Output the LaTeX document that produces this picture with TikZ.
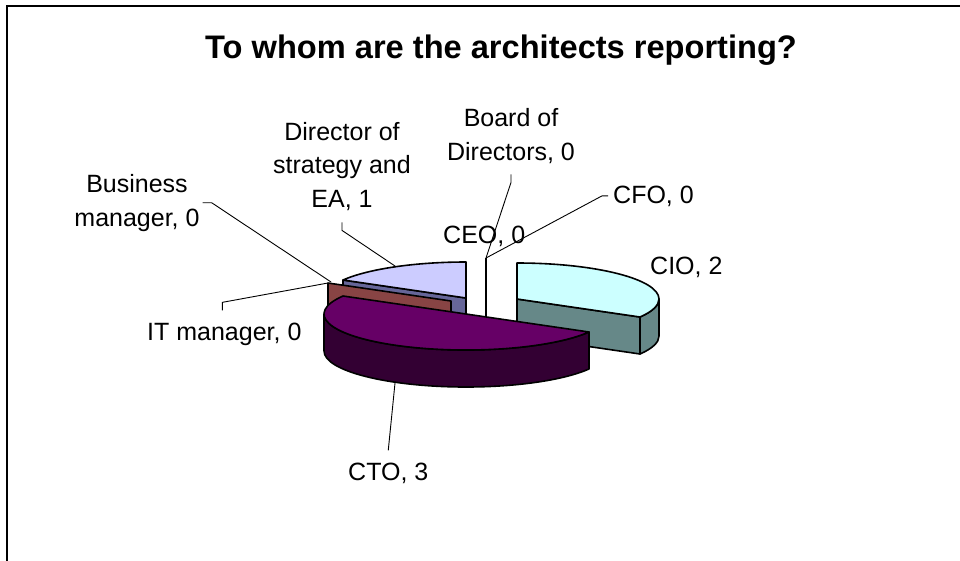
\documentclass[tikz,border=0pt]{standalone}
\usepackage{fontspec}
\setmainfont{Liberation Sans}
\usetikzlibrary{positioning}
\definecolor{cioTop}{HTML}{CCFFFF}
\definecolor{cioSide}{HTML}{668888}
\definecolor{ctoTop}{HTML}{660066}
\definecolor{ctoSide}{HTML}{330033}
\definecolor{eaTop}{HTML}{CCCCFF}
\definecolor{eaSide}{HTML}{666699}
\definecolor{itSide}{HTML}{884444}

\begin{document}
\begin{tikzpicture}[x=1pt, y=-1pt,
    lbl/.style={font=\fontsize{25}{33.5}\selectfont, inner sep=0pt, align=center},
    slice/.style={draw=black, line width=1.6pt, line join=round},
    leader/.style={draw=black, line width=0.9pt}]
  \useasboundingbox (0,0) rectangle (960,560);
  \clip (0,0) rectangle (960,560);
  \draw[line width=2pt] (7,6) rectangle (990,590);

  \node[font=\fontsize{32.6}{38}\selectfont\bfseries, anchor=base west, inner sep=0pt] (title) at (205,58) {To whom are the architects reporting?};

  \draw[slice, fill=eaSide] (466,298) -- (343,280) -- (343,317) -- (466,335) -- cycle;
  \draw[slice, fill=eaTop] (466,298) -- (343,280) arc[start angle=210, end angle=270, x radius=142, y radius=36] -- cycle;
  \draw[slice, fill=itSide] (451,301) -- (328,283) -- (328,320) -- (451,338) -- cycle;
  \draw[slice] (486,258) -- (486,331);

  \draw[slice, fill=cioSide] (517,299) -- (640,317) -- (640,354) -- (517,336) -- cycle;
  \draw[slice, fill=cioSide] (640,317) arc[start angle=30, end angle=0, x radius=142, y radius=36]
    -- ++(0,37) arc[start angle=0, end angle=30, x radius=142, y radius=36] -- cycle;
  \draw[slice, fill=cioTop] (517,299) -- (517,263) arc[start angle=270, end angle=390, x radius=142, y radius=36] -- cycle;

  \draw[slice, fill=ctoSide] (589,332) arc[start angle=30, end angle=180, x radius=142, y radius=36]
    -- ++(0,37) arc[start angle=180, end angle=30, x radius=142, y radius=36] -- cycle;
  \draw[slice, fill=ctoTop] (466,314) -- (589,332) arc[start angle=30, end angle=210, x radius=142, y radius=36] -- cycle;

  \coordinate (zeroTop) at (486,258);
  \coordinate (eaRim) at (395,266);
  \coordinate (bizRim) at (331,282);
  \coordinate (itRim) at (328,283);
  \coordinate (ctoRim) at (395,383);

  \node[lbl, anchor=base] (board) at (511,160) {Board of\\Directors, 0};
  \node[lbl, anchor=base] (dirEA) at (342,207) {Director of\\strategy and\\EA, 1};
  \node[lbl, anchor=base] (bizMgr) at (137,226) {Business\\manager, 0};
  \node[lbl, anchor=base west] (ceo) at (443,243) {CEO, 0};
  \node[lbl, anchor=base west] (cfo) at (613,203) {CFO, 0};
  \node[lbl, anchor=base west] (cio) at (650,274) {CIO, 2};
  \node[lbl, anchor=base west] (itMgr) at (147,340) {IT manager, 0};
  \node[lbl, anchor=base west] (cto) at (348,480) {CTO, 3};

  \draw[leader] (board.south) ++(0,11) -- ++(0,8) -- (zeroTop);
  \draw[leader] (cfo.west) ++(-5,0) -- ++(-6,0) -- (zeroTop);
  \draw[leader] (dirEA.south) ++(0,12) -- ++(0,8) -- (eaRim);
  \draw[leader] (bizMgr.east) ++(3,0) -- ++(9,0) -- (bizRim);
  \draw[leader] (itMgr.north) ++(-2,-12) -- ++(0,-8) -- (itRim);
  \draw[leader] (cto.north) ++(0,-12) -- (ctoRim);
\end{tikzpicture}
\end{document}
